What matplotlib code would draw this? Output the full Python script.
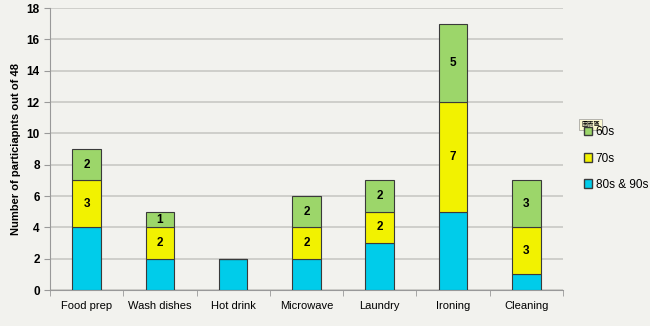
import numpy as np
import matplotlib.pyplot as plt
from matplotlib.patches import Patch

categories = ["Food prep", "Wash dishes", "Hot drink", "Microwave", "Laundry", "Ironing", "Cleaning"]
age_80s_90s = [4, 2, 2, 2, 3, 5, 1]
age_70s = [3, 2, 0, 2, 2, 7, 3]
age_60s = [2, 1, 0, 2, 2, 5, 3]

BG = "#f2f2ee"
C_80 = "#00ccea"
C_70 = "#f2f200"
C_60 = "#9cd66a"

plt.rcParams["font.family"] = ["Liberation Sans", "DejaVu Sans"]

fig = plt.figure(figsize=(6.5, 3.26), dpi=100, facecolor=BG)
ax = fig.add_axes([0.077, 0.110, 0.789, 0.865], facecolor=BG)

x = np.arange(len(categories))
w = 0.39
edge = dict(edgecolor="#3a3a3a", linewidth=0.8)
b1 = ax.bar(x, age_80s_90s, w, color=C_80, **edge, zorder=3)
b2 = ax.bar(x, age_70s, w, bottom=age_80s_90s, color=C_70, **edge, zorder=3)
bottom60 = np.array(age_80s_90s) + np.array(age_70s)
b3 = ax.bar(x, age_60s, w, bottom=bottom60, color=C_60, **edge, zorder=3)

# value labels on the upper two segments
for bars, vals, base in ((b2, age_70s, age_80s_90s), (b3, age_60s, bottom60)):
    for xi, v, b in zip(x, vals, base):
        if v > 0:
            ax.text(xi, b + v / 2, str(v), ha="center", va="center",
                    fontsize=8.5, fontweight="bold", color="black", zorder=4)

ax.set_xlim(-0.5, len(categories) - 0.5)
ax.set_ylim(0, 18)
ax.set_yticks(range(0, 19, 2))
ax.yaxis.grid(True, color="#c8c8c4", linewidth=1.2, zorder=0)
ax.set_xticks(x)
ax.set_xticklabels(categories, fontsize=8)
ax.set_xticks(np.arange(-0.5, len(categories)), minor=True)
ax.tick_params(axis="x", which="major", length=0, pad=8)
ax.tick_params(axis="x", which="minor", length=4, color="#999999")
ax.tick_params(axis="y", length=4, color="#999999", labelsize=8.5)
for lbl in ax.get_yticklabels():
    lbl.set_fontweight("bold")
ax.set_ylabel("Number of particiapnts out of 48", fontsize=8, fontweight="bold", labelpad=4)

for s in ("top", "right"):
    ax.spines[s].set_visible(False)
for s in ("left", "bottom"):
    ax.spines[s].set_color("#999999")

handles = [Patch(facecolor=C_60, edgecolor="#3a3a3a", label="60s"),
           Patch(facecolor=C_70, edgecolor="#3a3a3a", label="70s"),
           Patch(facecolor=C_80, edgecolor="#3a3a3a", label="80s & 90s")]
fig.legend(handles=handles, loc="upper left", bbox_to_anchor=(0.882, 0.645),
           frameon=False, fontsize=8.5, handlelength=0.7, handleheight=0.7,
           handletextpad=0.3, labelspacing=1.2)

# hover tooltip over the legend
fig.text(0.894, 0.612, "圖表區", fontsize=4.5, family=["Noto Sans CJK TC", "DejaVu Sans"],
         bbox=dict(boxstyle="square,pad=0.3", facecolor="#fbf8d0", edgecolor="#999999", linewidth=0.5))

fig.savefig("out.png", dpi=100, facecolor=BG)
